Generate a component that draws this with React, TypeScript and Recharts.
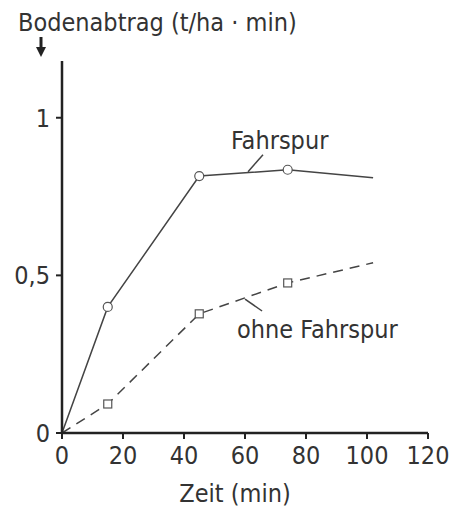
import { LineChart, Line, XAxis, YAxis, ReferenceDot, ReferenceLine } from "recharts";

const zeit = [0, 15, 45, 74, 102];
const mitFahrspur = [0, 0.4, 0.815, 0.835, 0.81];
const ohneFahrspur = [0, 0.092, 0.378, 0.476, 0.54];
const xTicks = [0, 20, 40, 60, 80, 100, 120];
const yTicks = [0, 0.5, 1];

const data = zeit.map((t, i) => ({ t, mit: mitFahrspur[i], ohne: ohneFahrspur[i] }));

const FONT = "'DejaVu Sans Condensed', 'Liberation Sans Narrow', sans-serif";
const INK = "#333";
const FS = 25;

const lastIdx = zeit.length - 1;

function CircleDot(props: any) {
  const { cx, cy, index } = props;
  if (index === 0 || index === lastIdx) return null;
  return <circle key={index} cx={cx} cy={cy} r={4.5} fill="#fff" stroke="#555" strokeWidth={1.2} />;
}

function SquareDot(props: any) {
  const { cx, cy, index } = props;
  if (index === 0 || index === lastIdx) return null;
  return <rect key={index} x={cx - 4} y={cy - 4} width={8} height={8} fill="#fff" stroke="#555" strokeWidth={1.2} />;
}

function textAt(text: string) {
  return (p: any) => (
    <text x={p.viewBox.x} y={p.viewBox.y} fill={INK} fontFamily={FONT} fontSize={FS} textAnchor="start">
      {text}
    </text>
  );
}

function YTitle(p: any) {
  const { x, y } = p.viewBox;
  return (
    <g>
      <text x={x + 18} y={y - 30} fill={INK} fontFamily={FONT} fontSize={FS} textAnchor="start">
        Bodenabtrag (t/ha · min)
      </text>
      <line x1={x + 41} y1={y - 24} x2={x + 41} y2={y - 12} stroke="#222" strokeWidth={3} />
      <polygon points={`${x + 36},${y - 14} ${x + 46},${y - 14} ${x + 41},${y - 4}`} fill="#222" />
    </g>
  );
}

function XTitle(p: any) {
  const { x, y, width } = p.viewBox;
  return (
    <text x={x + width / 2 - 10} y={y + 69} fill={INK} fontFamily={FONT} fontSize={FS} textAnchor="middle">
      Zeit (min)
    </text>
  );
}

export default function App() {
  const tickStyle = { fill: INK, fontFamily: FONT, fontSize: FS };
  return (
    <div style={{ position: "absolute", left: 0, top: 0, background: "#fff" }}>
      <LineChart width={449} height={512} data={data} margin={{ top: 61, right: 21, bottom: 49, left: 0 }}>
        <XAxis
          dataKey="t"
          type="number"
          domain={[0, 120]}
          ticks={xTicks}
          interval={0}
          height={30}
          tickSize={6}
          tickMargin={7}
          tick={tickStyle}
          axisLine={{ stroke: "#222", strokeWidth: 2.5 }}
          tickLine={{ stroke: "#222", strokeWidth: 2 }}
          label={<XTitle />}
        />
        <YAxis
          type="number"
          domain={[0, 1.18]}
          ticks={yTicks}
          width={62}
          tickSize={6}
          tickMargin={6}
          tick={tickStyle}
          tickFormatter={(v: number) => String(v).replace(".", ",")}
          axisLine={{ stroke: "#222", strokeWidth: 2.5 }}
          tickLine={{ stroke: "#222", strokeWidth: 2 }}
          label={<YTitle />}
        />
        <Line dataKey="mit" stroke="#444" strokeWidth={1.5} dot={<CircleDot />} activeDot={false} isAnimationActive={false} />
        <Line
          dataKey="ohne"
          stroke="#444"
          strokeWidth={1.5}
          strokeDasharray="10 7"
          dot={<SquareDot />}
          activeDot={false}
          isAnimationActive={false}
        />
        <ReferenceLine segment={[{ x: 61, y: 0.829 }, { x: 65.9, y: 0.883 }]} stroke="#444" strokeWidth={1.5} />
        <ReferenceLine segment={[{ x: 60, y: 0.425 }, { x: 65.6, y: 0.387 }]} stroke="#444" strokeWidth={1.5} />
        <ReferenceDot x={55.4} y={0.902} r={0} stroke="none" fill="none" label={textAt("Fahrspur")} />
        <ReferenceDot x={57.4} y={0.302} r={0} stroke="none" fill="none" label={textAt("ohne Fahrspur")} />
      </LineChart>
    </div>
  );
}
